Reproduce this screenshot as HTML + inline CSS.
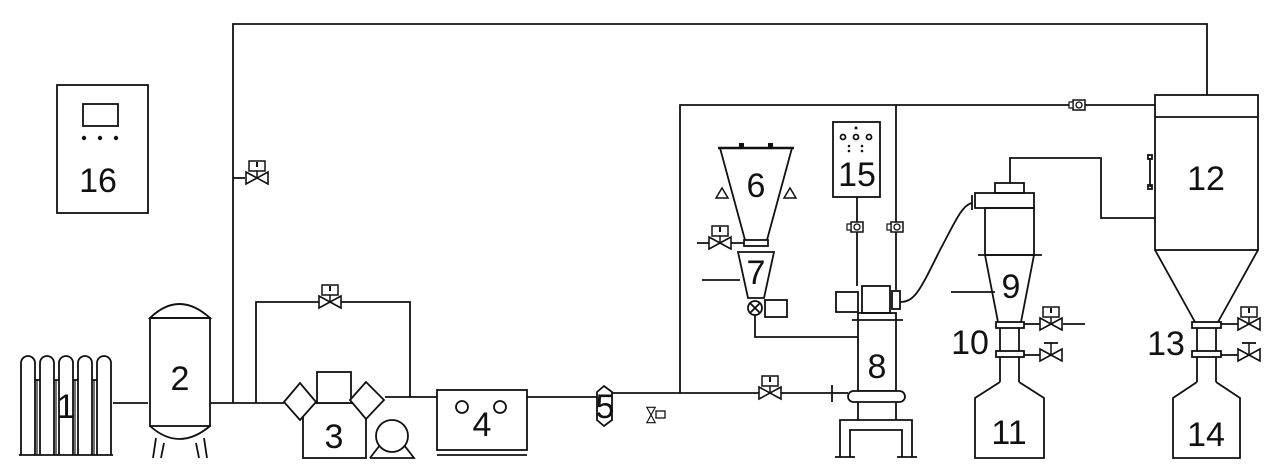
<!DOCTYPE html>
<html><head><meta charset="utf-8"><style>
html,body{margin:0;padding:0;background:#fff;}
svg{display:block;}
text{font-family:"Liberation Sans",sans-serif;fill:#111;}
</style></head><body>
<svg width="1280" height="472" viewBox="0 0 1280 472" xmlns="http://www.w3.org/2000/svg">
<defs>
<g id="gv"><rect x="-6" y="-5" width="12" height="10" fill="#fff" stroke="#111" stroke-width="1.5"/><circle cx="0" cy="0" r="3" fill="none" stroke="#111" stroke-width="1.3"/><rect x="-10" y="-3" width="4" height="6" fill="#fff" stroke="#111" stroke-width="1.2"/></g>
<g id="valve"><path d="M-11,-6 L11,6 L11,-6 L-11,6 Z" fill="#fff" stroke="#111" stroke-width="1.6"/></g>
<g id="sv"><use href="#valve"/><line x1="0" y1="0" x2="0" y2="-8" stroke="#111" stroke-width="1.5"/><rect x="-8" y="-17" width="16" height="10" fill="#fff" stroke="#111" stroke-width="1.5"/><line x1="0" y1="-16" x2="0" y2="-11" stroke="#111" stroke-width="2"/></g>
<g id="mv"><use href="#valve"/><line x1="0" y1="0" x2="0" y2="-12" stroke="#111" stroke-width="1.5"/><line x1="-7" y1="-12" x2="7" y2="-12" stroke="#111" stroke-width="1.8"/></g>
</defs>
<g fill="none" stroke="#111" stroke-width="1.8">
<polyline points="233,403 233,24 1207,24 1207,95"/>
<polyline points="680,393 680,105 1155,105"/>
<line x1="896" y1="105" x2="896" y2="290"/>
<line x1="857" y1="197" x2="857" y2="286"/>
<line x1="113" y1="403" x2="148" y2="403"/>
<line x1="210" y1="403" x2="284" y2="403"/>
<line x1="233" y1="178" x2="245" y2="178"/>
<polyline points="256,403 256,302 410,302 410,397"/>
<line x1="385" y1="397" x2="437" y2="397"/>
<line x1="527" y1="397" x2="597" y2="397"/>
<line x1="612" y1="393" x2="832" y2="393"/>
<line x1="832" y1="385" x2="832" y2="402"/>
<line x1="832" y1="393" x2="848" y2="393"/>
<polyline points="755,315 755,337 858,337"/>
<line x1="697" y1="243" x2="745" y2="243"/>
<line x1="702" y1="280" x2="740" y2="280"/>
<path d="M900,302 C915,302 920,290 940,250 C955,222 962,205 972,203"/>
<polyline points="1010,183 1010,158 1101,158 1101,218 1155,218"/>
<line x1="1063" y1="324" x2="1085" y2="324"/>
<line x1="1024" y1="324" x2="1040" y2="324"/>
<line x1="1024" y1="355" x2="1040" y2="355"/>
<line x1="1221" y1="324" x2="1238" y2="324"/>
<line x1="1221" y1="355" x2="1238" y2="355"/>
<line x1="951" y1="292" x2="995" y2="292"/>
<rect x="57" y="85" width="91" height="128"/>
<rect x="83" y="104" width="35" height="22"/>
<!-- 1 -->
<path d="M21,455 V363 a7,7 0 0 1 14,0 V455 M40,455 V363 a7,7 0 0 1 14,0 V455 M59,455 V363 a7,7 0 0 1 14,0 V455 M78,455 V363 a7,7 0 0 1 14,0 V455 M97,455 V363 a7,7 0 0 1 14,0 V455"/>
<path d="M35,380 H40 M54,380 H59 M73,380 H78 M92,380 H97"/>
<path d="M37,380 V455 M56,380 V455 M75,380 V455 M94,380 V455" stroke-width="1.2"/>
<line x1="19" y1="455" x2="113" y2="455"/>
<path d="M150,318 Q179,290 210,318 Z"/>
<rect x="150" y="318" width="60" height="108"/>
<path d="M150,426 Q179,452 210,426"/>
<path d="M156,438 L153,458 M161,458 L164,443 M196,443 L199,458 M207,458 L204,438"/>
<rect x="303" y="403" width="63" height="55"/>
<path d="M284,402 L300,383 L316,402 L300,420 Z" fill="#fff"/>
<rect x="317" y="372" width="34" height="31" fill="#fff"/>
<path d="M350,400 L366,382 L384,400 L366,419 Z" fill="#fff"/>
<path d="M370,458 L414,458 L404,445" /><path d="M380,445 L370,458"/>
<circle cx="392" cy="436" r="16" fill="#fff"/>
<rect x="437" y="390" width="90" height="60"/>
<line x1="437" y1="455" x2="527" y2="455"/>
<circle cx="462" cy="407" r="6"/><circle cx="500" cy="407" r="6"/>
<path d="M597,392 L604,386 L612,392 V420 L604,426 L597,420 Z" fill="#fff"/>
<line x1="718" y1="148" x2="794" y2="148" stroke-width="2.5"/>
<path d="M720,148 L745,240 M792,148 L767,240"/>
<rect x="744" y="240" width="24" height="6" fill="#fff"/>
<path d="M738,252 L774,252 L764,298 L748,298 Z"/>
<circle cx="755" cy="308" r="7" fill="#fff"/>
<path d="M750,303 L760,313 M760,303 L750,313"/>
<rect x="765" y="300" width="22" height="17"/>
<rect x="833" y="122" width="47" height="75"/>
<circle cx="843" cy="137" r="2.5"/><circle cx="856" cy="137" r="2.5"/><circle cx="869" cy="137" r="2.5"/>
<rect x="858" y="313" width="38" height="78"/>
<line x1="852" y1="320" x2="903" y2="320"/>
<rect x="862" y="286" width="28" height="27"/>
<rect x="836" y="292" width="22" height="20"/>
<rect x="892" y="291" width="8" height="18"/>
<line x1="858" y1="402" x2="858" y2="420"/><line x1="896" y1="402" x2="896" y2="420"/>
<rect x="848" y="391" width="57" height="11" rx="5.5" fill="#fff"/>
<path d="M840,457 V420 H912 V457 M850,457 V430 H902 V457"/>
<path d="M835,457 H855 M897,457 H917"/>
<rect x="995" y="183" width="29" height="10"/>
<rect x="975" y="193" width="59" height="15"/>
<line x1="972" y1="195" x2="972" y2="210"/>
<rect x="985" y="208" width="49" height="47"/>
<line x1="978" y1="255" x2="1042" y2="255"/>
<path d="M985,255 L998,322 M1034,255 L1021,322"/>
<rect x="996" y="322" width="28" height="6" fill="#fff"/>
<rect x="996" y="351" width="28" height="6" fill="#fff"/>
<path d="M1000,328 V351 M1019,328 V351 M1000,357 V382 M1019,357 V382"/>
<path d="M1000,382 L975,398 V458 H1044 V398 L1019,382"/>
<rect x="1155" y="95" width="103" height="155"/>
<line x1="1155" y1="117" x2="1258" y2="117"/>
<path d="M1155,250 L1195,322 M1258,250 L1218,322"/>
<rect x="1192" y="322" width="29" height="6" fill="#fff"/>
<rect x="1192" y="351" width="29" height="6" fill="#fff"/>
<path d="M1197,328 V351 M1216,328 V351 M1197,357 V382 M1216,357 V382"/>
<path d="M1197,382 L1173,398 V458 H1240 V398 L1216,382"/>
<line x1="1150" y1="158" x2="1150" y2="187"/>
<rect x="1148" y="155" width="4" height="4"/><rect x="1148" y="185" width="4" height="4"/>
</g>
<g fill="#111"><circle cx="84" cy="138" r="2.2"/><circle cx="100" cy="138" r="2.2"/><circle cx="116" cy="138" r="2.2"/>
<circle cx="856" cy="128" r="1.5"/><circle cx="849" cy="146" r="1.3"/><circle cx="849" cy="151" r="1.3"/><circle cx="862" cy="146" r="1.3"/><circle cx="862" cy="151" r="1.3"/>
<rect x="739" y="143" width="5" height="5"/><rect x="768" y="143" width="5" height="5"/>
<path d="M716,198 L722,188 L728,198 Z M784,198 L790,188 L796,198 Z" fill="none" stroke="#111" stroke-width="1.5"/>
</g>
<use href="#sv" x="257" y="178"/>
<use href="#sv" x="330" y="302"/>
<use href="#sv" x="720" y="243"/>
<use href="#sv" x="770" y="393"/>
<use href="#sv" x="1051" y="324"/>
<use href="#mv" x="1051" y="355"/>
<use href="#sv" x="1249" y="324"/>
<use href="#mv" x="1249" y="355"/>
<g transform="translate(651,415) rotate(90)"><use href="#valve" transform="scale(0.7)"/></g>
<rect x="656" y="411" width="9" height="7" fill="#fff" stroke="#111" stroke-width="1.3"/>
<use href="#gv" x="1079" y="105"/>
<use href="#gv" x="857" y="227"/>
<use href="#gv" x="897" y="227"/>
<g font-size="34">
<text x="98" y="192" text-anchor="middle">16</text>
<text x="66" y="418" text-anchor="middle">1</text>
<text x="180" y="390" text-anchor="middle">2</text>
<text x="334" y="448" text-anchor="middle">3</text>
<text x="482" y="436" text-anchor="middle">4</text>
<text x="605" y="418" text-anchor="middle">5</text>
<text x="756" y="197" text-anchor="middle">6</text>
<text x="756" y="284" text-anchor="middle">7</text>
<text x="877" y="378" text-anchor="middle">8</text>
<text x="1011" y="298" text-anchor="middle">9</text>
<text x="970" y="354" text-anchor="middle">10</text>
<text x="1009" y="444" text-anchor="middle">11</text>
<text x="1206" y="190" text-anchor="middle">12</text>
<text x="1166" y="355" text-anchor="middle">13</text>
<text x="1206" y="446" text-anchor="middle">14</text>
<text x="857" y="186" text-anchor="middle">15</text>
</g>
</svg>
</body></html>
